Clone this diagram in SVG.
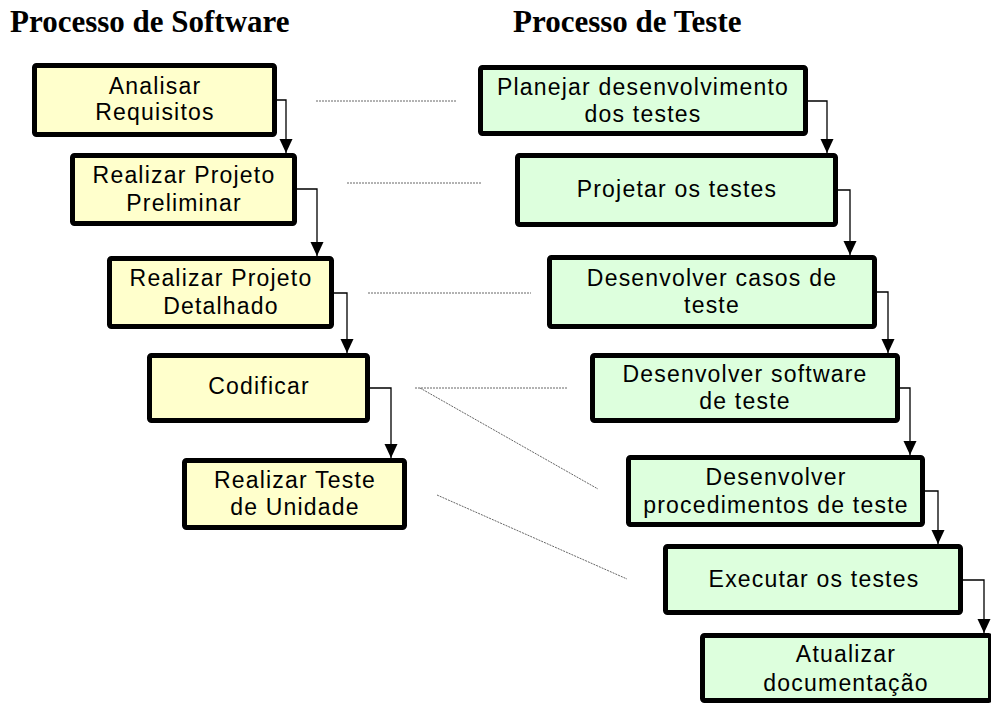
<svg xmlns="http://www.w3.org/2000/svg" width="991" height="704" viewBox="0 0 991 704">
<defs>
<style>
.title{font-family:"Liberation Serif","Times New Roman",serif;font-weight:bold;font-size:31px;fill:#000}
.sw{fill:#FFFFCC;stroke:#000;stroke-width:5}
.ts{fill:#DDFFDD;stroke:#000;stroke-width:5}
.lbl{font-family:"Liberation Sans",Arial,sans-serif;font-size:23px;letter-spacing:1.2px;fill:#000;text-anchor:middle}
.flow{fill:none;stroke:#000;stroke-width:1.3;marker-end:url(#ah)}
.dot{fill:none;stroke:#666;stroke-width:1;stroke-dasharray:2 1}
</style>
<marker id="ah" markerUnits="userSpaceOnUse" markerWidth="14" markerHeight="14" refX="14" refY="6.5" orient="auto">
<path d="M0,0 L14,6.5 L0,13 Z" fill="#000"/>
</marker>
</defs>
<rect width="991" height="704" fill="#fff"/>
<text class="title" x="10" y="31.5">Processo de Software</text>
<text class="title" x="513" y="31.5">Processo de Teste</text>

<g id="connectors">
<path class="flow" d="M277,100 H286 V153"/>
<path class="flow" d="M297,189 H317 V256"/>
<path class="flow" d="M334,293 H347 V353"/>
<path class="flow" d="M370,388 H391 V458"/>
<path class="flow" d="M808,101 H827 V153"/>
<path class="flow" d="M838,190 H850 V255"/>
<path class="flow" d="M877,292 H888 V353"/>
<path class="flow" d="M900,388 H910 V455"/>
<path class="flow" d="M925,491 H938 V544"/>
<path class="flow" d="M963,580 H984 V633"/>
<line class="dot" x1="316" y1="101" x2="457" y2="101"/>
<line class="dot" x1="347" y1="183" x2="482" y2="183"/>
<line class="dot" x1="368" y1="293" x2="531" y2="293"/>
<line class="dot" x1="415" y1="388" x2="567" y2="388"/>
<line class="dot" x1="420" y1="388" x2="598" y2="489"/>
<line class="dot" x1="437" y1="495" x2="627" y2="579"/>
</g>

<g id="y1"><rect class="sw" x="34.5" y="65.5" width="240" height="69" rx="2"/>
<text class="lbl" x="155" y="93.5">Analisar</text><text class="lbl" x="155" y="120">Requisitos</text></g>
<g id="y2"><rect class="sw" x="72.5" y="155.5" width="222" height="68" rx="2"/>
<text class="lbl" x="184" y="182.5">Realizar Projeto</text><text class="lbl" x="184" y="211">Preliminar</text></g>
<g id="y3"><rect class="sw" x="109.5" y="258.5" width="222" height="68" rx="2"/>
<text class="lbl" x="221" y="286">Realizar Projeto</text><text class="lbl" x="221" y="314">Detalhado</text></g>
<g id="y4"><rect class="sw" x="149.5" y="355.5" width="218" height="65" rx="2"/>
<text class="lbl" x="259" y="394">Codificar</text></g>
<g id="y5"><rect class="sw" x="184.5" y="460.5" width="220" height="67" rx="2"/>
<text class="lbl" x="295" y="487.5">Realizar Teste</text><text class="lbl" x="295" y="515">de Unidade</text></g>

<g id="g1"><rect class="ts" x="480.5" y="67.5" width="325" height="66" rx="2"/>
<text class="lbl" x="643" y="95">Planejar desenvolvimento</text><text class="lbl" x="643" y="121.5">dos testes</text></g>
<g id="g2"><rect class="ts" x="517.5" y="155.5" width="318" height="69" rx="2"/>
<text class="lbl" x="677" y="197">Projetar os testes</text></g>
<g id="g3"><rect class="ts" x="549.5" y="257.5" width="325" height="69" rx="2"/>
<text class="lbl" x="712" y="285.5">Desenvolver casos de</text><text class="lbl" x="712" y="313">teste</text></g>
<g id="g4"><rect class="ts" x="592.5" y="355.5" width="305" height="65" rx="2"/>
<text class="lbl" x="745" y="381.5">Desenvolver software</text><text class="lbl" x="745" y="409">de teste</text></g>
<g id="g5"><rect class="ts" x="628.5" y="457.5" width="294" height="67" rx="2"/>
<text class="lbl" x="776" y="485">Desenvolver</text><text class="lbl" x="776" y="513">procedimentos de teste</text></g>
<g id="g6"><rect class="ts" x="665.5" y="546.5" width="295" height="66" rx="2"/>
<text class="lbl" x="814" y="587">Executar os testes</text></g>
<g id="g7"><rect class="ts" x="702.5" y="635.5" width="288" height="65" rx="2"/>
<text class="lbl" x="846" y="662">Atualizar</text><text class="lbl" x="846" y="690.5">documentação</text></g>
</svg>
